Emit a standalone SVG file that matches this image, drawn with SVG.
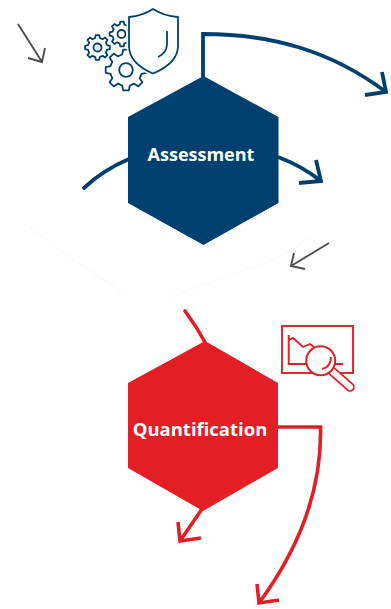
<svg xmlns="http://www.w3.org/2000/svg" width="391" height="609" viewBox="0 0 391 609">
<style>
.lbl{font-family:"Open Sans","Noto Sans",sans-serif;font-weight:700;fill:#fff;text-anchor:middle}
.b{fill:none;stroke:#004070;stroke-width:3.8}
.r{fill:none;stroke:#e31e24;stroke-width:3.6}
.g{fill:none;stroke:#4d4d4d;stroke-width:1.9}
.ib{fill:#fff;stroke:#004070;stroke-width:1.8;stroke-linejoin:round}
.ir{fill:none;stroke:#e31e24;stroke-width:1.9}
.f{fill:none;stroke:#f8f8f8;stroke-width:1}
</style>
<defs>
<path id="gear" vector-effect="non-scaling-stroke" d="M.757-.189L.99-.139L.99.139L.757.189L.668.402L.799.602L.602.799L.402.668L.189.757L.139.99L-.139.99L-.189.757L-.402.668L-.602.799L-.799.602L-.668.402L-.757.189L-.99.139L-.99-.139L-.757-.189L-.668-.402L-.799-.602L-.602-.799L-.402-.668L-.189-.757L-.139-.99L.139-.99L.189-.757L.402-.668L.602-.799L.799-.602L.668-.402Z"/>
</defs>
<g id="connectors">
<path class="f" d="M310 236Q296 249 275 259Q225 277 170 297M22 223Q70 258 122 292"/>
<path class="g" d="M18 24L42 62M45 48L42 62L28 58"/>
<path class="g" d="M329 243L291 266M294 253L291 266L305 269"/>
<path class="b" d="M203 77V34C270 34 330 50 386 92M382 72L386 92L365 95"/>
<path class="b" stroke-linecap="round" d="M84 188Q103 170 129 159"/>
<path class="b" d="M278 157Q302 166 321 181M316 160L321 181L299 183"/>
<path class="r" stroke-linecap="round" d="M185 311Q197 327 206 344"/>
<path class="r" d="M278 427H320.500C322 490 298 550 259 603M257 584L259 603L279 600"/>
<path class="r" d="M202 509L180 541M178 522L180 541L201 538"/>
</g>
<g id="assessment">
<polygon fill="#004070" points="203.500,76 278.500,117 278.500,203 203.500,245 128,203 128,117"/>
<text class="lbl" x="201" y="160.500" font-size="18">Assessment</text>
</g>
<g id="assessment-icon">
<use href="#gear" class="ib" transform="translate(97.500 47.500) scale(12.500)"/>
<circle class="ib" cx="97.500" cy="47.500" r="4"/>
<use href="#gear" class="ib" transform="translate(122 34) scale(12.500)"/>
<circle class="ib" cx="121.500" cy="34" r="4"/>
<use href="#gear" class="ib" transform="translate(126 70) scale(20.500)"/>
<circle class="ib" cx="126" cy="70" r="6.800"/>
<path d="M153 9Q142 16 129 17V46C129 60 140 68 153 73.500C166 68 178 60 178 46V17Q164 16 153 9Z" fill="#fff" stroke="#fff" stroke-width="5"/>
<path class="ib" d="M153 9Q142 16 129 17V46C129 60 140 68 153 73.500C166 68 178 60 178 46V17Q164 16 153 9Z"/>
<path class="ib" style="fill:none" d="M167 31V44Q167 53 158 57"/>
</g>
<g id="quantification">
<polygon fill="#e31e24" points="205,341 278,383 278,468 203,511 128,468 128,383"/>
<text class="lbl" x="200" y="436" font-size="18.500">Quantification</text>
</g>
<g id="quantification-icon">
<rect class="ir" x="282" y="326" width="71" height="47"/>
<path class="ir" d="M288.700 335V364H343M288.700 340L293 338L303 347L310 344L314 347"/>
<path d="M333 372L350 387" stroke="#e31e24" stroke-width="9.500" stroke-linecap="round"/>
<path d="M333 372L350 387" stroke="#fff" stroke-width="6" stroke-linecap="round"/>
<circle cx="320.700" cy="360.700" r="14.500" fill="#fff" stroke="#e31e24" stroke-width="2"/>
<path class="ir" d="M331 357Q331 367 322 369"/>
</g>
</svg>
